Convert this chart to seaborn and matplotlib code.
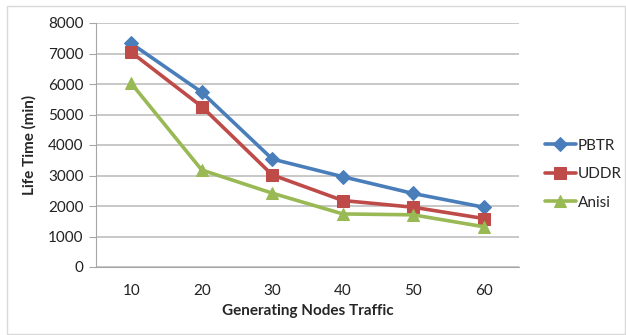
import matplotlib
matplotlib.use("Agg")
import matplotlib.pyplot as plt
import matplotlib.patches as mpatches
import seaborn as sns
import pandas as pd

traffic = ["10", "20", "30", "40", "50", "60"]
pbtr = [7330, 5730, 3540, 2960, 2410, 1960]
uddr = [7040, 5260, 3020, 2180, 1960, 1590]
anisi = [6020, 3180, 2420, 1740, 1710, 1320]

series_names = ["PBTR", "UDDR", "Anisi"]
colors = {"PBTR": "#4A7EBB", "UDDR": "#BE4B48", "Anisi": "#98B954"}
markers = {"PBTR": "D", "UDDR": "s", "Anisi": "^"}
msizes = {"PBTR": 7, "UDDR": 9, "Anisi": 9}

df = pd.DataFrame({
    "Traffic": traffic * 3,
    "Value": pbtr + uddr + anisi,
    "Series": ["PBTR"] * 6 + ["UDDR"] * 6 + ["Anisi"] * 6,
})

sns.set_style("white")
plt.rcParams["font.family"] = ["Lato", "DejaVu Sans"]

fig = plt.figure(figsize=(6.26, 3.35), dpi=100)
ax = fig.add_axes([96 / 626, 1 - 267 / 335, (519 - 96) / 626, (267 - 23) / 335])

pos = {t: i for i, t in enumerate(traffic)}
df["x"] = df["Traffic"].map(pos)

for name in series_names:
    sub = df[df["Series"] == name]
    sns.lineplot(data=sub, x="x", y="Value", ax=ax, color=colors[name],
                 marker=markers[name], markersize=msizes[name],
                 markeredgecolor=colors[name], linewidth=2.6, label=name)

ax.set_xlim(-0.5, len(traffic) - 0.5)
ax.set_ylim(0, 8000)
ax.set_xticks(range(len(traffic)))
ax.set_xticklabels(traffic)
ax.set_yticks(range(0, 8001, 1000))
ax.yaxis.grid(True, color="#BFBFBF", linewidth=1.2)
ax.set_axisbelow(True)
for side in ["top", "right"]:
    ax.spines[side].set_visible(False)
ax.spines["left"].set_color("#A6A6A6")
ax.spines["bottom"].set_color("#A6A6A6")
ax.tick_params(axis="y", which="both", left=True, length=5, color="#A6A6A6",
               labelsize=11, pad=4, labelcolor="#222222")
ax.tick_params(axis="x", bottom=False, labelsize=11, pad=9, labelcolor="#222222")

ax.set_xlabel("Generating Nodes Traffic", fontsize=11, fontweight="bold", labelpad=4)
ax.set_ylabel("Life Time (min)", fontsize=11, fontweight="bold", labelpad=8)

ax.legend(loc="center left", bbox_to_anchor=((545 - 96) / 423, 0.38), frameon=False,
          fontsize=11, handlelength=2.0, handletextpad=0.15, labelspacing=0.95,
          borderaxespad=0, borderpad=0)

fig.patches.append(mpatches.Rectangle((7 / 626, 1 / 335), 618 / 626, 328 / 335,
                                      transform=fig.transFigure, fill=False,
                                      edgecolor="#D9D9D9", linewidth=1))

fig.savefig("out.png", dpi=100, facecolor="white")
